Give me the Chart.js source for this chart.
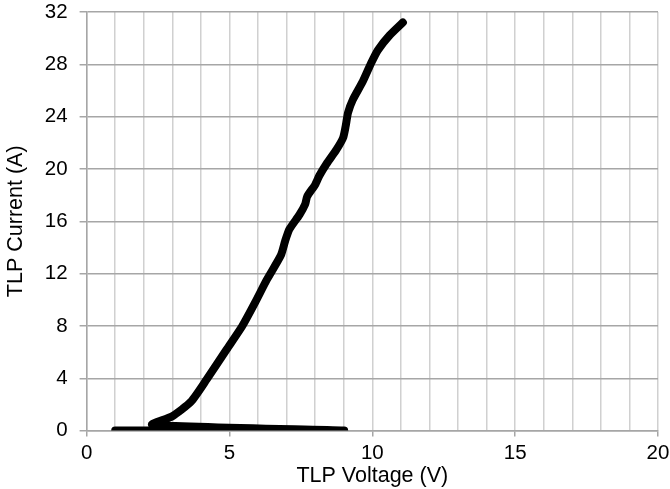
<!DOCTYPE html>
<html>
<head>
<meta charset="utf-8">
<script src="https://cdn.jsdelivr.net/npm/chart.js@4/dist/chart.umd.min.js"></script>
<style>
  body { margin: 0; background: #fff; }
</style>
</head>
<body>
<canvas id="mychart" width="670" height="489"></canvas>
<script>
// off-state sweep: voltage climbs with ~0 current until snapback
const offVoltage = [1, 2, 3, 4, 5, 6, 7, 8, 9];
const offCurrent = [0, 0, 0, 0, 0, 0, 0, 0, 0];
// after snapback
const onVoltage = [2.3, 3.0, 3.65, 4.2, 4.9, 5.45, 5.9, 6.3, 6.8, 6.95, 7.1, 7.45, 7.65, 7.72, 8.0, 8.15, 8.4, 8.75, 8.98, 9.07, 9.15, 9.32, 9.67, 9.96, 10.2, 10.6, 11.07];
const onCurrent = [0.45, 1.1, 2.2, 3.9, 6.2, 8.0, 9.8, 11.5, 13.4, 14.5, 15.4, 16.5, 17.3, 17.9, 18.8, 19.5, 20.4, 21.5, 22.4, 23.3, 24.3, 25.3, 26.7, 28.1, 29.1, 30.2, 31.2];
const xMajorTicks = [0, 5, 10, 15, 20];
const yTickStep = 4;

let points = [];
for (let i = 0; i < offVoltage.length; i++) points.push({x: offVoltage[i], y: offCurrent[i]});
for (let i = 0; i < onVoltage.length; i++) points.push({x: onVoltage[i], y: onCurrent[i]});

const fontFam = '"Liberation Sans", Arial, sans-serif';

var ctx = document.getElementById('mychart').getContext('2d');
var myChart = new Chart(ctx, {
    type: 'scatter',
    data: {
        datasets: [{
            label: 'TLP',
            data: points,
            showLine: true,
            fill: false,
            borderColor: '#000',
            backgroundColor: '#000',
            borderWidth: 8,
            borderCapStyle: 'round',
            borderJoinStyle: 'round',
            tension: 0.2,
            pointRadius: 0
        }]
    },
    options: {
        responsive: false,
        animation: false,
        layout: { padding: { left: 3, right: 12, top: 12, bottom: 0 } },
        plugins: { legend: { display: false }, tooltip: { enabled: false } },
        scales: {
            x: {
                type: 'linear',
                min: 0,
                max: 20,
                afterFit: s => { s.paddingRight = 0; s.paddingLeft = 0; },
                grid: {
                    color: '#d0d0d0',
                    lineWidth: 1.5,
                    tickLength: 6,
                    tickColor: c => xMajorTicks.includes(c.tick.value) ? '#a6a6a6' : 'rgba(0,0,0,0)'
                },
                border: { color: '#a6a6a6', width: 1.5 },
                ticks: {
                    stepSize: 1,
                    autoSkip: false,
                    maxRotation: 0,
                    padding: 4,
                    color: '#000',
                    font: { family: fontFam, size: 20.5 },
                    callback: v => xMajorTicks.includes(v) ? String(v) : ''
                },
                title: {
                    display: true,
                    text: 'TLP Voltage (V)',
                    color: '#000',
                    font: { family: fontFam, size: 21.5 },
                    padding: { top: -6, bottom: 0 }
                }
            },
            y: {
                min: 0,
                max: 32,
                afterFit: s => { s.paddingTop = 0; s.paddingBottom = 0; },
                grid: { color: '#a6a6a6', lineWidth: 1.5, tickLength: 7 },
                border: { color: '#a6a6a6', width: 1.5 },
                ticks: {
                    stepSize: yTickStep,
                    padding: 12,
                    color: '#000',
                    font: { family: fontFam, size: 20.5 }
                },
                title: {
                    display: true,
                    text: 'TLP Current (A)',
                    color: '#000',
                    font: { family: fontFam, size: 21.5 },
                    padding: { top: 0, bottom: 4 }
                }
            }
        }
    }
});
</script>
</body>
</html>
